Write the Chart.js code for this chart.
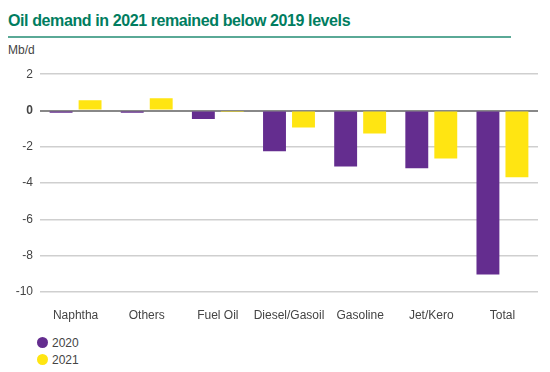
<!DOCTYPE html>
<html>
<head>
<meta charset="utf-8">
<script src="https://cdn.jsdelivr.net/npm/chart.js@4/dist/chart.umd.min.js"></script>
<style>
body{margin:0;background:#fff;font-family:"Liberation Sans",Arial,sans-serif;}
#wrap{position:relative;width:550px;height:372px;}
#title{position:absolute;left:8px;top:12px;font-size:16px;letter-spacing:-0.4px;font-weight:bold;color:#007d60;}
#rule{position:absolute;left:8px;top:36px;width:503px;height:2px;background:#5aa996;}
#unit{position:absolute;left:8px;top:43px;font-size:12px;color:#444;}
#box{position:absolute;left:0;top:60px;width:550px;height:274px;}
#legend{position:absolute;left:37px;top:335px;font-size:12px;color:#444;}
#legend div{height:17px;line-height:17px;}
#legend span{display:inline-block;width:11px;height:11px;border-radius:50%;margin-right:4px;vertical-align:-1px;}
</style>
</head>
<body>
<div id="wrap">
<div id="title">Oil demand in 2021 remained below 2019 levels</div>
<div id="rule"></div>
<div id="unit">Mb/d</div>
<div id="box"><canvas id="chart"></canvas></div>
<div id="legend"></div>
</div>
<script>
const categories = ["Naphtha","Others","Fuel Oil","Diesel/Gasoil","Gasoline","Jet/Kero","Total"]
const values2020 = [-0.12,-0.12,-0.47,-2.25,-3.08,-3.18,-9.03]
const values2021 = [0.57,0.67,-0.08,-0.94,-1.27,-2.65,-3.68]
const seriesNames = ["2020","2021"]
const seriesColors = ["#642d8f","#ffe512"]

const ctx = document.getElementById("chart").getContext("2d")

const chart = new Chart(ctx,{
type:"bar",
data:{
labels:categories,
datasets:[{
label:seriesNames[0],
data:values2020,
backgroundColor:seriesColors[0]
},{
label:seriesNames[1],
data:values2021,
backgroundColor:seriesColors[1]
}]
},
options:{
responsive:true,
maintainAspectRatio:false,
animation:false,
categoryPercentage:0.815,
barPercentage:0.79,
layout:{padding:{top:6,right:12}},
plugins:{
legend:{display:false},
tooltip:{enabled:false}
},
scales:{
x:{
grid:{display:false},
border:{display:false},
ticks:{color:"#444",font:{size:12,family:"Liberation Sans"},padding:8,maxRotation:0,autoSkip:false},
afterFit:function(s){s.height=42}
},
y:{
min:-10,
max:2,
ticks:{
stepSize:2,
color:"#444",
padding:7,
font:function(c){return {size:12,family:"Liberation Sans",weight:c.tick && c.tick.value===0?"bold":"normal"}}
},
border:{display:false},
grid:{
drawTicks:false,
color:function(c){return c.tick && c.tick.value===0?"#888":"#cfcfcf"},
lineWidth:function(c){return c.tick && c.tick.value===0?2:1.5}
},
afterFit:function(s){s.width=40}
}
}
}
})

// legend, one entry per line
const legend = document.getElementById("legend")
chart.data.datasets.forEach(function(ds){
legend.innerHTML += '<div><span style="background:'+ds.backgroundColor+'"></span>'+ds.label+'</div>'
})
</script>
</body>
</html>
